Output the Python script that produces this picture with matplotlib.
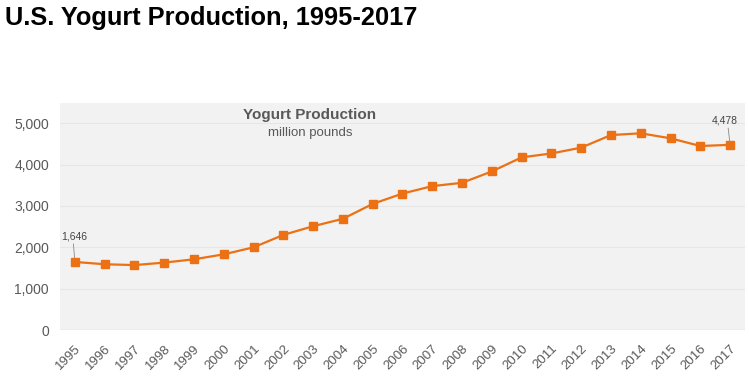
import matplotlib.pyplot as plt

plt.rcParams['font.family'] = ['Liberation Sans', 'DejaVu Sans']

# data
years = list(range(1995, 2018))
production = [1646, 1590, 1570, 1630, 1710, 1830, 2000, 2300, 2510, 2690, 3050, 3300,
              3480, 3560, 3835, 4175, 4270, 4410, 4715, 4757, 4636, 4450, 4478]
yticks = [0, 1000, 2000, 3000, 4000, 5000]

orange = '#ec7014'
grey = '#595959'

fig = plt.figure(figsize=(7.49, 3.9), dpi=100)
ax = fig.add_axes([60/749, 1 - 330/390, 685/749, 227/390])
ax.set_facecolor('#f2f2f2')

ax.plot(years, production, color=orange, linewidth=1.6, marker='s', markersize=5.5, zorder=3)

ax.set_xlim(1994.5, 2017.5)
ax.set_ylim(0, 5490)
ax.set_yticks(yticks)
ax.set_yticklabels(['{:,}'.format(v) for v in yticks], fontsize=10, color=grey)
ax.set_xticks(years)
ax.set_xticklabels([str(y) for y in years], rotation=45, ha='right', rotation_mode='anchor',
                   fontsize=9.5, color=grey)
ax.tick_params(length=0, pad=8)
ax.tick_params(axis='x', pad=9)
for lbl in ax.get_xticklabels():
    lbl.set_x(lbl.get_position()[0])
ax.grid(axis='y', color='#e6e6e6', linewidth=0.8)
ax.set_axisbelow(True)
for s in ax.spines.values():
    s.set_visible(False)
ax.axhline(0, color='#dcdcdc', linewidth=1)

# labels on first and last point
ax.annotate('{:,}'.format(production[0]), xy=(years[0], production[0]), xytext=(years[0] - 0.45, 2150),
            fontsize=7.5, color='#444444', ha='left', va='bottom',
            arrowprops=dict(arrowstyle='-', color='#888888', lw=0.6,
                            shrinkA=0, shrinkB=3, relpos=(0.45, 0)))
ax.annotate('{:,}'.format(production[-1]), xy=(years[-1], production[-1]), xytext=(years[-1] - 0.6, 4950),
            fontsize=7.5, color='#444444', ha='left', va='bottom',
            arrowprops=dict(arrowstyle='-', color='#888888', lw=0.6,
                            shrinkA=0, shrinkB=3, relpos=(0.6, 0)))

ax.text(0.365, 0.945, 'Yogurt Production', transform=ax.transAxes, ha='center', va='center',
        fontsize=11, fontweight='bold', color=grey)
ax.text(0.365, 0.87, 'million pounds', transform=ax.transAxes, ha='center', va='center',
        fontsize=9.5, color=grey)

fig.text(5/749, 1 - 18/390, 'U.S. Yogurt Production, 1995-2017', ha='left', va='center',
         fontsize=18.3, fontweight='bold', color='black')

fig.savefig('out.png', dpi=100)
